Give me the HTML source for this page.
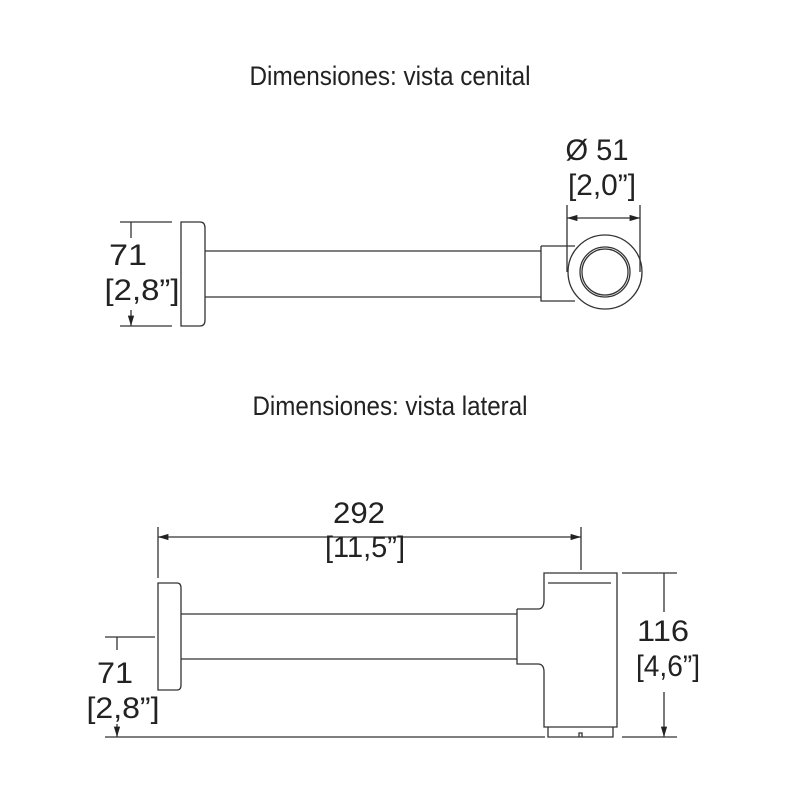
<!DOCTYPE html>
<html><head><style>body{margin:0;background:#fff}svg{display:block}text{font-family:"Liberation Sans",sans-serif;fill:#222}</style></head><body>
<svg width="800" height="800" viewBox="0 0 800 800" xmlns="http://www.w3.org/2000/svg">
<defs><marker id="a" viewBox="0 0 10 10" refX="10" refY="5" markerWidth="8" markerHeight="8" orient="auto-start-reverse"><path d="M0,2 L10,5 L0,8z" fill="#222"/></marker></defs>
<g stroke="#333" stroke-width="1.3" fill="none">
<path d="M181,222 H200 Q205,222 205,228 V320 Q205,326 200,326 H181 Z"/>
<path d="M205,251 H541 M205,297 H541"/>
<path d="M541,246 H575 M541,246 V301 H575"/>
<circle cx="605" cy="272" r="37" fill="#fff"/>
<circle cx="605" cy="272" r="25"/>
<circle cx="605" cy="272" r="23"/>
<path d="M120,222 H172 M120,326 H172"/>
<path d="M131,238 V222 M131,310 V326" marker-end="url(#a)"/>
<path d="M567,205 V272 M640,205 V272"/>
<path d="M567,218 H640" marker-start="url(#a)" marker-end="url(#a)"/>
<path d="M158,583 H177 Q181,583 181,588 V685 Q181,690 177,690 H158 Z"/>
<path d="M181,614 H517 M181,659 H517"/>
<path d="M517,609 V664 H538 Q544,664 544,672 V727 H617 V573 H544 V600 Q544,609 538,609 H517"/>
<path d="M548,583 H611"/>
<path d="M548,727 V737 H613 V727 M579,737 V733 H582 V737"/>
<path d="M158,527 V578 M581,527 V570"/>
<path d="M158,537 H581" marker-start="url(#a)" marker-end="url(#a)"/>
<path d="M622,573 H677 M622,737 H677"/>
<path d="M664,612 V573 M664,692 V737" marker-end="url(#a)"/>
<path d="M105,637 H155 M105,737 H545"/>
<path d="M117,650 V637 M117,724 V737" marker-end="url(#a)"/>
</g>
<g font-size="27" text-anchor="middle">
<text x="390" y="85" textLength="281" lengthAdjust="spacingAndGlyphs">Dimensiones: vista cenital</text>
<text x="390" y="415" textLength="275" lengthAdjust="spacingAndGlyphs">Dimensiones: vista lateral</text>
</g>
<g font-size="30" text-anchor="middle">
<text x="597" y="160" textLength="63" lengthAdjust="spacingAndGlyphs">Ø 51</text>
<text x="602" y="195" textLength="68" lengthAdjust="spacingAndGlyphs">[2,0”]</text>
<text x="128" y="265" textLength="38" lengthAdjust="spacingAndGlyphs">71</text>
<text x="142" y="300" textLength="75" lengthAdjust="spacingAndGlyphs">[2,8”]</text>
<text x="359" y="523" textLength="52" lengthAdjust="spacingAndGlyphs">292</text>
<text x="365" y="557" textLength="80" lengthAdjust="spacingAndGlyphs">[11,5”]</text>
<text x="663" y="641" textLength="52" lengthAdjust="spacingAndGlyphs">116</text>
<text x="668" y="676" textLength="64" lengthAdjust="spacingAndGlyphs">[4,6”]</text>
<text x="115" y="683" textLength="36" lengthAdjust="spacingAndGlyphs">71</text>
<text x="123" y="718" textLength="73" lengthAdjust="spacingAndGlyphs">[2,8”]</text>
</g>
</svg>
</body></html>
